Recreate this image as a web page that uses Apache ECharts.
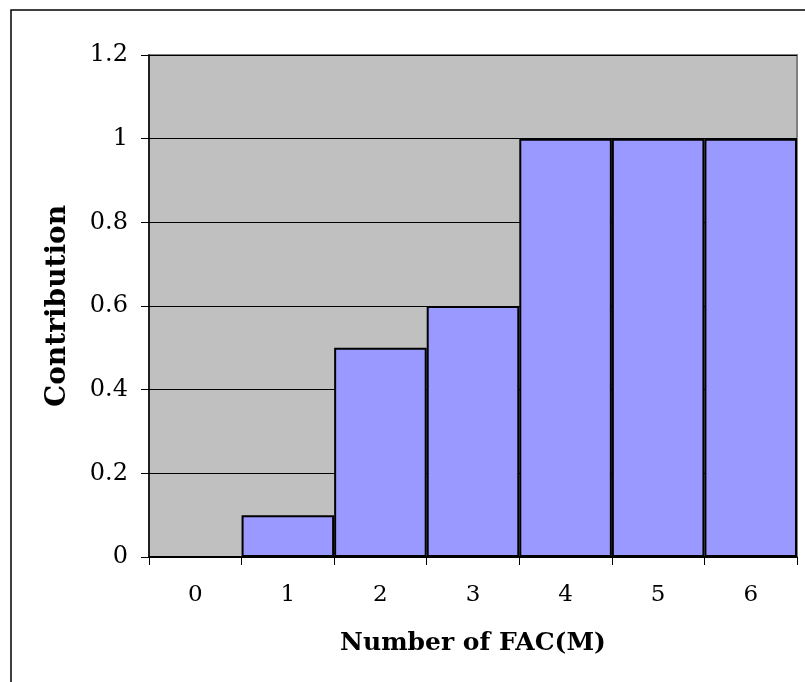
<!DOCTYPE html>
<html>
<head>
<meta charset="utf-8">
<script src="https://cdn.jsdelivr.net/npm/echarts@6/dist/echarts.min.js"></script>
<style>
  html, body { margin: 0; padding: 0; background: #fff; }
  #chart { width: 805px; height: 682px; }
</style>
</head>
<body>
<div id="chart"></div>
<script>
var categories = ['0', '1', '2', '3', '4', '5', '6']
var contribution = [0, 0.1, 0.5, 0.6, 1, 1, 1]
var yTickLabels = ['0', '0.2', '0.4', '0.6', '0.8', '1', '1.2']

var chart = echarts.init(document.getElementById('chart'))
chart.setOption({
  backgroundColor: '#ffffff',
  animation: false,
  textStyle: { fontFamily: 'DejaVu Serif' },
  graphic: [{
    type: 'rect',
    shape: { x: 11, y: 10, width: 900, height: 800 },
    style: { fill: 'none', stroke: '#000', lineWidth: 1.5 },
    silent: true
  }],
  grid: {
    left: 149,
    top: 55,
    right: 8,
    bottom: 125,
    show: true,
    backgroundColor: '#c0c0c0',
    borderColor: '#808080',
    borderWidth: 2
  },
  xAxis: {
    type: 'category',
    data: categories,
    name: 'Number of FAC(M)',
    nameLocation: 'middle',
    nameGap: 74,
    nameTextStyle: { fontFamily: 'DejaVu Serif', fontWeight: 'bold', fontSize: 25, color: '#000' },
    axisLine: { lineStyle: { color: '#000', width: 1.5 } },
    axisTick: { show: true, length: 8, alignWithLabel: false, lineStyle: { color: '#000' } },
    axisLabel: { margin: 27, fontSize: 23, color: '#000', fontFamily: 'DejaVu Serif' }
  },
  yAxis: {
    type: 'value',
    min: 0,
    max: 1.2,
    interval: 0.2,
    name: 'Contribution',
    nameLocation: 'middle',
    nameRotate: 90,
    nameGap: 77,
    nameTextStyle: { fontFamily: 'DejaVu Serif', fontWeight: 'bold', fontSize: 28, color: '#000' },
    axisLine: { show: true, lineStyle: { color: '#000', width: 1.5 } },
    axisTick: { show: true, length: 8, lineStyle: { color: '#000' } },
    axisLabel: {
      margin: 21,
      fontSize: 24,
      color: '#000',
      fontFamily: 'DejaVu Serif',
      formatter: function (v) { return yTickLabels[Math.round(v / 0.2)] }
    },
    splitLine: { show: true, lineStyle: { color: '#000', width: 1 } }
  },
  series: [{
    type: 'bar',
    data: contribution,
    barCategoryGap: '0%',
    itemStyle: { color: '#9999ff', borderColor: '#000', borderWidth: 2 }
  }]
})
</script>
</body>
</html>
